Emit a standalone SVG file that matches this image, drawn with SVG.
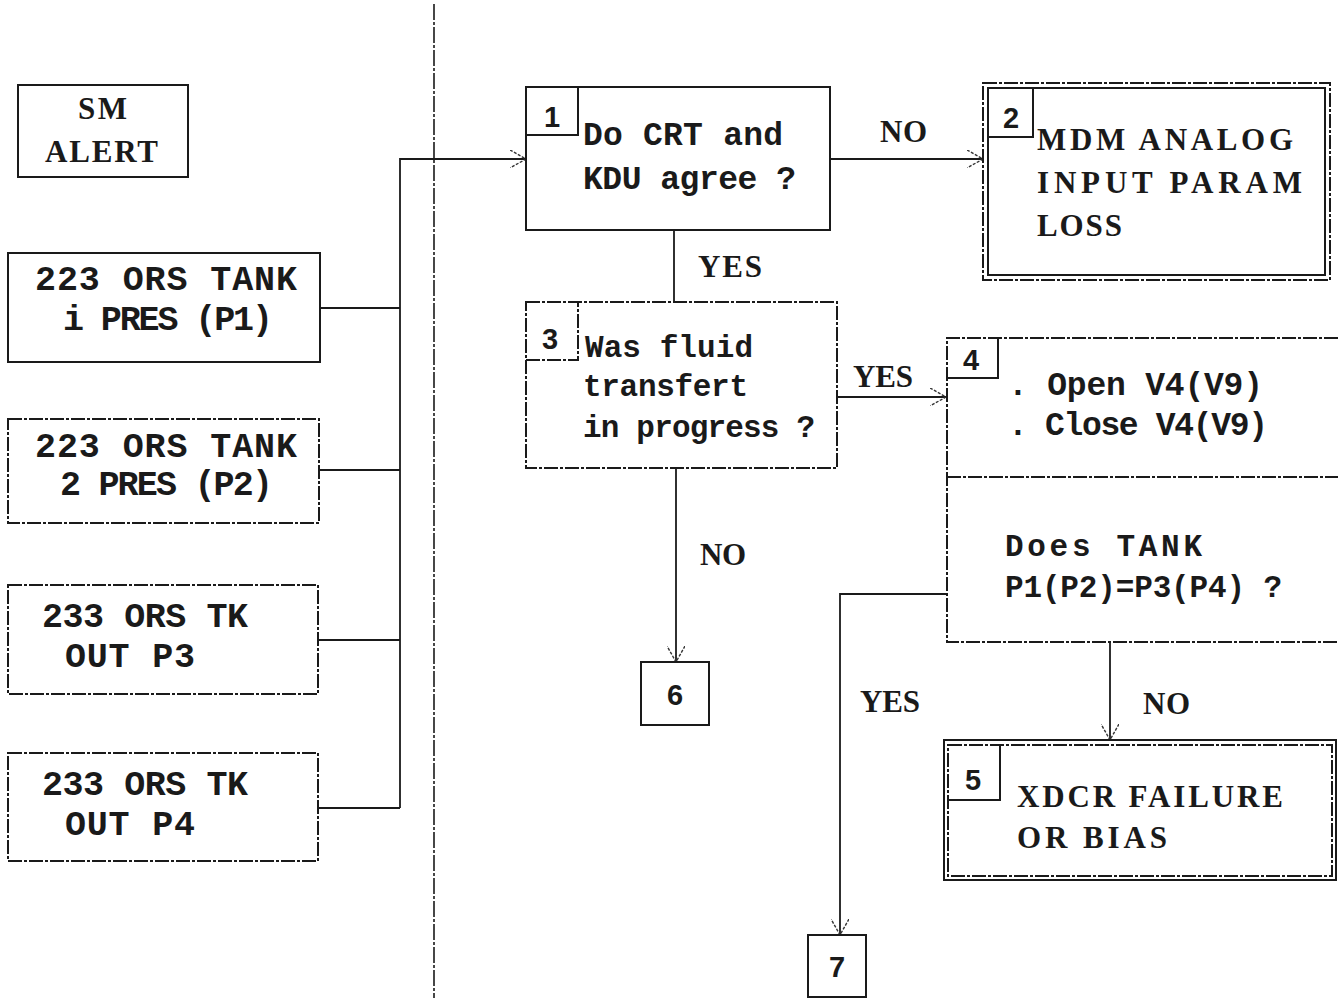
<svg xmlns="http://www.w3.org/2000/svg" width="1338" height="998" viewBox="0 0 1338 998">
<style>
.bx{fill:none;stroke:#1a1a1a;stroke-width:2}
.bxd{fill:none;stroke:#1a1a1a;stroke-width:2;stroke-dasharray:14 2 3 2}
.ln{fill:none;stroke:#1a1a1a;stroke-width:1.8}
.mono{font-family:"Liberation Mono","DejaVu Sans Mono",monospace;font-size:35px;font-weight:bold;fill:#1a1a1a}
.m33{font-size:33px}
.m31{font-size:31px}
.ser{font-family:"Liberation Serif","DejaVu Serif",serif;font-size:31px;font-weight:bold;fill:#1a1a1a}
.num{font-family:"Liberation Sans","DejaVu Sans",sans-serif;font-size:29px;font-weight:bold;fill:#1a1a1a;text-anchor:middle}
</style>
<defs>
<marker id="arr" viewBox="0 0 16 18" refX="16" refY="9" markerWidth="16" markerHeight="18" orient="auto" markerUnits="userSpaceOnUse">
<path d="M0,0 L16,9 L0,18" fill="none" stroke="#333" stroke-width="1.4" stroke-dasharray="3 1.5"/>
</marker>
</defs>
<line x1="434" y1="4" x2="434" y2="998" stroke="#1a1a1a" stroke-width="1.6" stroke-dasharray="16 2 3 2"/>
<g id="connectors">
<polyline class="ln" points="320,308 400,308"/>
<polyline class="ln" points="320,470 400,470"/>
<polyline class="ln" points="318,640 400,640"/>
<polyline class="ln" points="318,808 400,808"/>
<polyline class="ln" points="400,808 400,159 526,159" marker-end="url(#arr)"/>
<line class="ln" x1="830" y1="159" x2="983" y2="159" marker-end="url(#arr)"/>
<line class="ln" x1="674" y1="230" x2="674" y2="302"/>
<line class="ln" x1="838" y1="397" x2="946" y2="397" marker-end="url(#arr)"/>
<line class="ln" x1="676" y1="468" x2="676" y2="662" marker-end="url(#arr)"/>
<polyline class="ln" points="947,594 840,594 840,935" marker-end="url(#arr)"/>
<line class="ln" x1="1110" y1="642" x2="1110" y2="740" marker-end="url(#arr)"/>
<text class="ser" x="880" y="142" textLength="47" lengthAdjust="spacing">NO</text>
<text class="ser" x="698" y="277" textLength="64" lengthAdjust="spacing">YES</text>
<text class="ser" x="853" y="387" textLength="60" lengthAdjust="spacing">YES</text>
<text class="ser" x="700" y="565" textLength="46" lengthAdjust="spacing">NO</text>
<text class="ser" x="860" y="712" textLength="60" lengthAdjust="spacing">YES</text>
<text class="ser" x="1143" y="714" textLength="47" lengthAdjust="spacing">NO</text>
</g>
<g id="sm-alert">
<rect class="bx" x="18" y="85" width="170" height="92"/>
<text class="ser" x="78" y="119" textLength="49" lengthAdjust="spacing">SM</text>
<text class="ser" x="45" y="162" textLength="113" lengthAdjust="spacing">ALERT</text>
</g>
<g id="tank1">
<rect class="bx" x="8" y="253" width="312" height="109"/>
<text class="mono" x="35" y="290" textLength="262" lengthAdjust="spacing">223 ORS TANK</text>
<text class="mono" x="63" y="330" textLength="210" lengthAdjust="spacing">i PRES (P1)</text>
</g>
<g id="tank2">
<rect class="bxd" x="8" y="419" width="311" height="104"/>
<text class="mono" x="35" y="457" textLength="262" lengthAdjust="spacing">223 ORS TANK</text>
<text class="mono" x="60" y="495" textLength="213" lengthAdjust="spacing">2 PRES (P2)</text>
</g>
<g id="tk-out-p3">
<rect class="bxd" x="8" y="585" width="310" height="109"/>
<text class="mono" x="42" y="627" textLength="206" lengthAdjust="spacing">233 ORS TK</text>
<text class="mono" x="65" y="667" textLength="130" lengthAdjust="spacing">OUT P3</text>
</g>
<g id="tk-out-p4">
<rect class="bxd" x="8" y="753" width="310" height="108"/>
<text class="mono" x="42" y="795" textLength="206" lengthAdjust="spacing">233 ORS TK</text>
<text class="mono" x="65" y="835" textLength="130" lengthAdjust="spacing">OUT P4</text>
</g>
<g id="node1">
<rect class="bx" x="526" y="87" width="304" height="143"/>
<polyline class="bx" points="526,135 578,135 578,87"/>
<text class="num" x="552" y="127">1</text>
<text class="mono m33" x="583" y="145" textLength="200" lengthAdjust="spacing">Do CRT and</text>
<text class="mono m33" x="583" y="189" textLength="213" lengthAdjust="spacing">KDU agree ?</text>
</g>
<g id="node2">
<rect class="bxd" x="983" y="83" width="347" height="197"/>
<rect class="bx" x="988" y="88" width="337" height="187"/>
<polyline class="bx" points="988,137 1033,137 1033,88"/>
<text class="num" x="1011" y="128">2</text>
<text class="ser" x="1037" y="150" textLength="256" lengthAdjust="spacing">MDM ANALOG</text>
<text class="ser" x="1037" y="193" textLength="265" lengthAdjust="spacing">INPUT PARAM</text>
<text class="ser" x="1037" y="236" textLength="85" lengthAdjust="spacing">LOSS</text>
</g>
<g id="node3">
<rect class="bxd" x="526" y="302" width="311" height="166"/>
<polyline class="bxd" points="526,360 578,360 578,302"/>
<text class="num" x="550" y="349">3</text>
<text class="mono m31" x="585" y="357" textLength="168" lengthAdjust="spacing">Was fluid</text>
<text class="mono m31" x="583" y="396" textLength="165" lengthAdjust="spacing">transfert</text>
<text class="mono m31" x="583" y="437" textLength="232" lengthAdjust="spacing">in progress ?</text>
</g>
<g id="node4">
<polyline class="bxd" points="1338,338 947,338 947,642 1338,642"/>
<line class="bxd" x1="947" y1="477" x2="1338" y2="477"/>
<polyline class="bx" points="947,378 998,378 998,338"/>
<text class="num" x="971" y="370">4</text>
<text class="mono m33" x="1008" y="395" textLength="255" lengthAdjust="spacing">. Open V4(V9)</text>
<text class="mono m33" x="1008" y="435" textLength="260" lengthAdjust="spacing">. Close V4(V9)</text>
<text class="mono m31" x="1005" y="556" textLength="197" lengthAdjust="spacing">Does TANK</text>
<text class="mono m31" x="1005" y="597" textLength="277" lengthAdjust="spacing">P1(P2)=P3(P4) ?</text>
</g>
<g id="node5">
<rect class="bx" x="944" y="740" width="392" height="140"/>
<rect class="bxd" x="948" y="745" width="384" height="131"/>
<polyline class="bx" points="948,800 1000,800 1000,745"/>
<text class="num" x="973" y="790">5</text>
<text class="ser" x="1017" y="807" textLength="266" lengthAdjust="spacing">XDCR FAILURE</text>
<text class="ser" x="1017" y="848" textLength="150" lengthAdjust="spacing">OR BIAS</text>
</g>
<g id="node6">
<rect class="bx" x="641" y="662" width="68" height="63"/>
<text class="num" x="675" y="705">6</text>
</g>
<g id="node7">
<rect class="bx" x="808" y="935" width="58" height="62"/>
<text class="num" x="837" y="977">7</text>
</g>
</svg>
